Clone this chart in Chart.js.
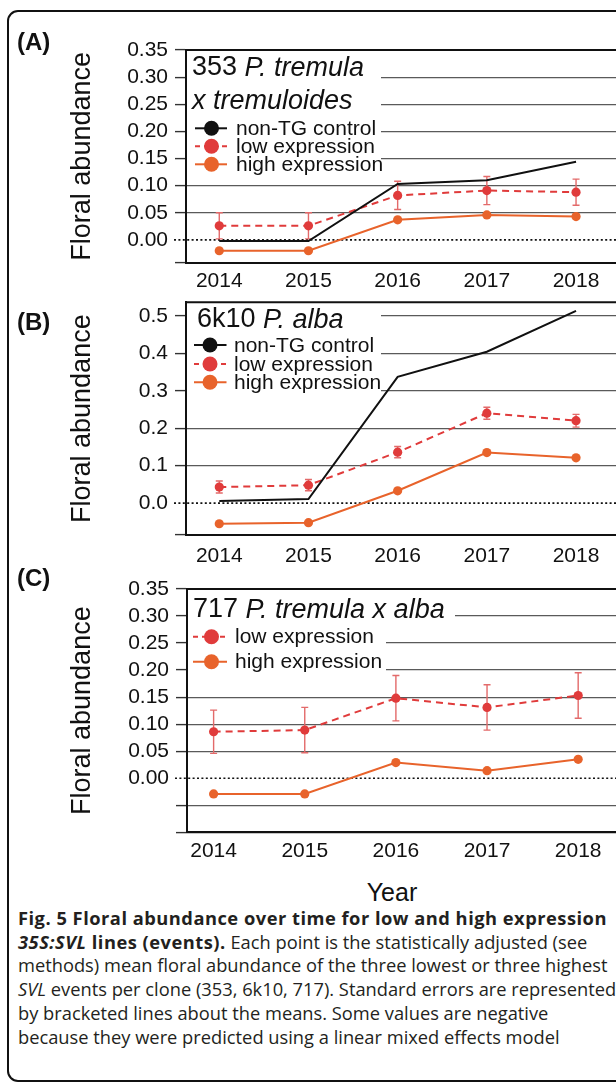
<!DOCTYPE html>
<html>
<head>
<meta charset="utf-8">
<script src="https://cdn.jsdelivr.net/npm/chart.js@4/dist/chart.umd.min.js"></script>
<style>
  html, body { margin: 0; padding: 0; background: #fff; width: 616px; height: 1084px; overflow: hidden; }
  #frame { position: absolute; left: 7px; top: 10px; width: 720px; height: 1072px; border: 2px solid #111;
           border-radius: 11px; box-sizing: border-box; }
  canvas.panel { position: absolute; left: 0; }
  .letter { position: absolute; left: 17px; font: bold 24px "Liberation Sans", Arial, sans-serif; color: #111; line-height: 24px; }
  #year { position: absolute; left: 392px; top: 892px; transform: translate(-50%, -50%);
          font: 25px "Liberation Sans", Arial, sans-serif; color: #111; }
  #caption { position: absolute; left: 18px; top: 906px; font-family: "Open Sans", sans-serif; font-size: 18.3px;
             line-height: 23.7px; color: #231f20; white-space: nowrap; }
  #caption b { letter-spacing: 0.5px; }
</style>
</head>
<body>
<div id="frame"></div>
<canvas id="chartA" class="panel" width="616" height="296" style="top:0px"></canvas>
<canvas id="chartB" class="panel" width="616" height="295" style="top:280px"></canvas>
<canvas id="chartC" class="panel" width="616" height="300" style="top:568px"></canvas>
<div class="letter" style="top:30px">(A)</div>
<div class="letter" style="top:310px">(B)</div>
<div class="letter" style="top:566px">(C)</div>
<div id="year">Year</div>
<div id="caption">
  <div><b>Fig. 5 Floral abundance over time for low and high expression</b></div>
  <div><b><i>35S:SVL</i> lines (events).</b> Each point is the statistically adjusted (see</div>
  <div>methods) mean floral abundance of the three lowest or three highest</div>
  <div><i>SVL</i> events per clone (353, 6k10, 717). Standard errors are represented</div>
  <div>by bracketed lines about the means. Some values are negative</div>
  <div>because they were predicted using a linear mixed effects model</div>
</div>
<script>
// ---- data ----
const years = [2014, 2015, 2016, 2017, 2018];
const yearLabels = ['2014', '2015', '2016', '2017', '2018'];

// (A) 353 P. tremula x tremuloides
const controlA = [-0.002, -0.002, 0.103, 0.110, 0.144];
const lowA     = [0.026, 0.026, 0.082, 0.091, 0.088];
const lowSeA   = [0.024, 0.024, 0.026, 0.026, 0.024];
const highA    = [-0.020, -0.020, 0.037, 0.046, 0.043];
const yTicksA  = [-0.042, 0, 0.05, 0.10, 0.15, 0.20, 0.25, 0.30, 0.35];
const yLabelsA = ['', '0.00', '0.05', '0.10', '0.15', '0.20', '0.25', '0.30', '0.35'];

// (B) 6k10 P. alba
const controlB = [0.006, 0.011, 0.337, 0.404, 0.513];
const lowB     = [0.043, 0.048, 0.136, 0.240, 0.220];
const lowSeB   = [0.016, 0.015, 0.015, 0.016, 0.017];
const highB    = [-0.055, -0.052, 0.033, 0.135, 0.121];
const yTicksB  = [-0.085, 0, 0.1, 0.2, 0.3, 0.4, 0.5];
const yLabelsB = ['', '0.0', '0.1', '0.2', '0.3', '0.4', '0.5'];

// (C) 717 P. tremula x alba
const lowC     = [0.086, 0.089, 0.148, 0.131, 0.153];
const lowSeC   = [0.040, 0.042, 0.042, 0.042, 0.042];
const highC    = [-0.029, -0.029, 0.029, 0.014, 0.035];
const yTicksC  = [-0.10, -0.05, 0, 0.05, 0.10, 0.15, 0.20, 0.25, 0.30, 0.35];
const yLabelsC = ['', '', '0.00', '0.05', '0.10', '0.15', '0.20', '0.25', '0.30', '0.35'];

// ---- styles ----
const BLACK = '#111111', RED = '#e03b3b', ORANGE = '#e8632b', ERR = '#e36a6a';
const FONT = '"Liberation Sans", Arial, sans-serif';

const pts = vals => years.map((yr, i) => ({ x: yr, y: vals[i] }));

const controlSet = vals => ({ data: pts(vals), borderColor: BLACK, borderWidth: 2, pointRadius: 0, tension: 0 });
const lowSet = vals => ({ data: pts(vals), borderColor: RED, borderWidth: 2, borderDash: [7, 5],
  pointRadius: 4.6, pointBackgroundColor: RED, pointBorderWidth: 0, tension: 0 });
const highSet = vals => ({ data: pts(vals), borderColor: ORANGE, borderWidth: 2,
  pointRadius: 4.6, pointBackgroundColor: ORANGE, pointBorderWidth: 0, tension: 0 });

// Panel decorations: white boxes behind the key, dotted zero line, error bars, frame top, title and key
const decor = {
  id: 'decor',
  beforeDatasetsDraw(chart, args, o) {
    const { ctx, chartArea: a, scales: { x, y } } = chart;
    ctx.save();
    ctx.fillStyle = '#fff';
    o.masks.forEach(([x0, y0, x1, y1]) => ctx.fillRect(x0, y0, x1 - x0, y1 - y0));
    const z = y.getPixelForValue(0);
    ctx.strokeStyle = BLACK; ctx.lineWidth = 1.6; ctx.setLineDash([2, 2.4]);
    ctx.beginPath(); ctx.moveTo(a.left - 12, z); ctx.lineTo(a.right, z); ctx.stroke();
    ctx.setLineDash([]);
    const eb = o.errors;
    ctx.strokeStyle = ERR; ctx.lineWidth = 1.4;
    years.forEach((yr, i) => {
      const px = x.getPixelForValue(yr);
      const top = y.getPixelForValue(eb.mean[i] + eb.se[i]);
      const bot = y.getPixelForValue(eb.mean[i] - eb.se[i]);
      ctx.beginPath();
      ctx.moveTo(px, top); ctx.lineTo(px, bot);
      ctx.moveTo(px - 3.5, top); ctx.lineTo(px + 3.5, top);
      ctx.moveTo(px - 3.5, bot); ctx.lineTo(px + 3.5, bot);
      ctx.stroke();
    });
    ctx.restore();
  },
  afterDraw(chart, args, o) {
    const { ctx, chartArea: a } = chart;
    ctx.save();
    ctx.strokeStyle = BLACK; ctx.lineWidth = 2;
    ctx.beginPath(); ctx.moveTo(a.left - 1, a.top); ctx.lineTo(a.right, a.top); ctx.stroke();
    ctx.fillStyle = BLACK;
    ctx.textBaseline = 'middle';
    o.title.forEach(row => {
      let tx = row.x;
      row.parts.forEach(([txt, italic]) => {
        ctx.font = (italic ? 'italic ' : '') + '27px ' + FONT;
        ctx.fillText(txt, tx, row.y);
        tx += ctx.measureText(txt).width;
      });
    });
    ctx.font = '21px ' + FONT;
    o.key.forEach(k => {
      ctx.strokeStyle = k.color; ctx.lineWidth = 2;
      ctx.setLineDash(k.dash || []);
      ctx.beginPath(); ctx.moveTo(o.keyX[0], k.y); ctx.lineTo(o.keyX[2], k.y); ctx.stroke();
      ctx.setLineDash([]);
      ctx.fillStyle = k.color;
      ctx.beginPath(); ctx.arc(o.keyX[1], k.y, 7.5, 0, Math.PI * 2); ctx.fill();
      ctx.fillStyle = BLACK;
      ctx.fillText(k.label, o.keyX[3], k.y + 1);
    });
    ctx.restore();
  }
};

function makePanel(id, cfg) {
  const ctx = document.getElementById(id);
  return new Chart(ctx, {
    type: 'line',
    data: { datasets: cfg.datasets },
    plugins: [decor],
    options: {
      responsive: false, animation: false, devicePixelRatio: 1,
      layout: { autoPadding: false, padding: { top: cfg.areaTop, left: 0, right: 0, bottom: 0 } },
      plugins: {
        legend: { display: false }, tooltip: { enabled: false },
        decor: { masks: cfg.masks, errors: cfg.errors, title: cfg.title, key: cfg.key, keyX: cfg.keyX }
      },
      scales: {
        x: {
          type: 'linear', min: cfg.xMin, max: cfg.xMax,
          afterBuildTicks: s => { s.ticks = years.map(v => ({ value: v })); },
          afterFit: s => { s.height = cfg.xAxisH; },
          ticks: { callback: (v, i) => yearLabels[i], color: BLACK, padding: cfg.xPad, maxRotation: 0,
                   autoSkip: false, font: { family: FONT, size: 21 } },
          grid: { display: false, drawTicks: false },
          border: { display: true, color: BLACK, width: 2 }
        },
        y: {
          min: cfg.yTicks[0], max: cfg.yMax,
          afterBuildTicks: s => { s.ticks = cfg.yTicks.map(v => ({ value: v })); },
          afterFit: s => { s.width = cfg.left; },
          ticks: { callback: (v, i) => cfg.yLabels[i], color: BLACK, padding: 7, autoSkip: false,
                   font: { family: FONT, size: 21 } },
          grid: {
            color: c => (c.tick && c.tick.value === 0) ? 'rgba(0,0,0,0)' : (c.index === 0 ? BLACK : '#5a5a5a'),
            tickColor: c => (c.tick && c.tick.value === 0) ? 'rgba(0,0,0,0)' : '#333',
            lineWidth: 1.2, tickLength: 11, tickWidth: 1.4
          },
          border: { display: true, color: BLACK, width: 2 },
          title: { display: true, text: 'Floral abundance', color: BLACK,
                   font: { family: FONT, size: 27 }, padding: { top: 66, bottom: 0 } }
        }
      }
    }
  });
}

makePanel('chartA', {
  datasets: [controlSet(controlA), lowSet(lowA), highSet(highA)],
  areaTop: 50, xAxisH: 33.3, xPad: 5.7, left: 186,
  xMin: 2013.627, xMax: 2018.448, yTicks: yTicksA, yLabels: yLabelsA, yMax: 0.35,
  masks: [[187, 51, 381, 171]],
  errors: { mean: lowA, se: lowSeA },
  title: [{ x: 192, y: 68, parts: [['353 ', false], ['P. tremula', true]] },
          { x: 192, y: 101.5, parts: [['x tremuloides', true]] }],
  keyX: [195, 211.5, 227, 236],
  key: [{ y: 128.3, color: BLACK, label: 'non-TG control' },
        { y: 146.3, color: RED, dash: [5, 4], label: 'low expression' },
        { y: 164.3, color: ORANGE, label: 'high expression' }]
});

makePanel('chartB', {
  datasets: [controlSet(controlB), lowSet(lowB), highSet(highB)],
  areaTop: 22.3, xAxisH: 40, xPad: 9.1, left: 186,
  xMin: 2013.627, xMax: 2018.448, yTicks: yTicksB, yLabels: yLabelsB, yMax: 0.536,
  masks: [[187, 23.5, 381, 118]],
  errors: { mean: lowB, se: lowSeB },
  title: [{ x: 197, y: 40, parts: [['6k10 ', false], ['P. alba', true]] }],
  keyX: [194, 210, 226.5, 234],
  key: [{ y: 65, color: BLACK, label: 'non-TG control' },
        { y: 84, color: RED, dash: [5, 4], label: 'low expression' },
        { y: 102.3, color: ORANGE, label: 'high expression' }]
});

makePanel('chartC', {
  datasets: [lowSet(lowC), highSet(highC)],
  areaTop: 21, xAxisH: 35.7, xPad: 6.8, left: 187,
  xMin: 2013.708, xMax: 2018.415, yTicks: yTicksC, yLabels: yLabelsC, yMax: 0.35,
  masks: [[188, 22, 455, 57], [188, 57, 386, 108]],
  errors: { mean: lowC, se: lowSeC },
  title: [{ x: 193, y: 42, parts: [['717 ', false], ['P. tremula x alba', true]] }],
  keyX: [193, 211.5, 227, 235],
  key: [{ y: 68.7, color: RED, dash: [5, 4], label: 'low expression' },
        { y: 93.7, color: ORANGE, label: 'high expression' }]
});
</script>
</body>
</html>
